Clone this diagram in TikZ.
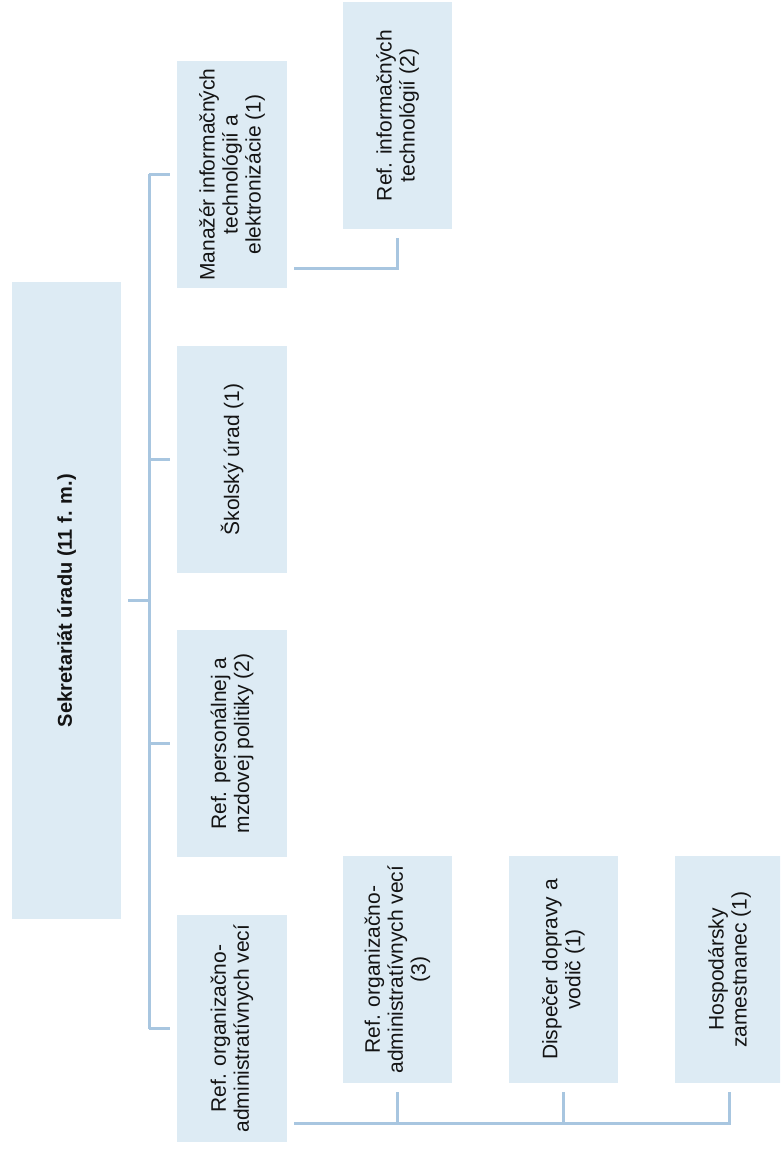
\documentclass[tikz,border=0pt]{standalone}
\usepackage{fontspec}
\setmainfont{Liberation Sans}
\usetikzlibrary{calc}
\definecolor{boxfill}{RGB}{221,235,244}
\definecolor{linecol}{RGB}{168,198,224}
\definecolor{txtcol}{RGB}{20,20,20}
\tikzset{
  orgbox/.style={rectangle, fill=boxfill, draw=none, rotate=90, inner sep=2pt,
    align=center, text=txtcol, font=\fontsize{21}{23}\selectfont,
    minimum width=227pt, minimum height=109pt},
  conn/.style={draw=linecol, line width=3pt}
}
\begin{document}
\begin{tikzpicture}[x=1pt,y=-1pt]
\useasboundingbox (0,0) rectangle (780,1150);
\fill[white] (0,0) rectangle (780,1150);
\begin{scope}
\clip (0,0) rectangle (780,1150);
% main box
\node[orgbox, minimum width=637pt, font=\fontsize{20}{23}\selectfont\bfseries] (main) at (66.5,600.5) {Sekretariát úradu (11 f. m.)};
% column 2
\node[orgbox, minimum height=110pt] (man) at (232,174.5) {Manažér informačných\\technológií a\\elektronizácie (1)};
\node[orgbox, minimum height=110pt] (skol) at (232,459.5) {Školský úrad (1)};
\node[orgbox, minimum height=110pt] (pers) at (232,743.5) {Ref. personálnej a\\mzdovej politiky (2)};
\node[orgbox, minimum height=110pt] (org) at (232,1028.5) {Ref. organizačno-\\administratívnych vecí};
% right side
\node[orgbox] (refit) at (397.5,115.5) {Ref. informačných\\technológií (2)};
\node[orgbox] (org3) at (397.5,969.5) {Ref. organizačno-\\administratívnych vecí\\(3)};
\node[orgbox] (disp) at (563.5,969.5) {Dispečer dopravy a\\vodič (1)};
\node[orgbox] (hosp) at (729.5,969.5) {Hospodársky\\zamestnanec (1)};
% bus
\coordinate (bus) at (149,0);
\draw[conn] ([xshift=7pt]main.south) -- (main.south -| bus);
\draw[conn] (bus |- man.center) -- (bus |- org.center);
\foreach \n in {man,skol,pers,org}
  \draw[conn] (bus |- \n.center) -- ([xshift=-7pt]\n.north);
% manager to IT referent
\draw[conn] ([shift={(7pt,20pt)}]man.south west) -| ([yshift=-9pt]refit.west);
% bottom group
\coordinate (bl) at ([shift={(7pt,19pt)}]org.south west);
\draw[conn] (bl) -| ([yshift=-9pt]hosp.west);
\draw[conn] ([yshift=-9pt]org3.west) -- (org3.west |- bl);
\draw[conn] ([yshift=-9pt]disp.west) -- (disp.west |- bl);
\end{scope}
\end{tikzpicture}
\end{document}
